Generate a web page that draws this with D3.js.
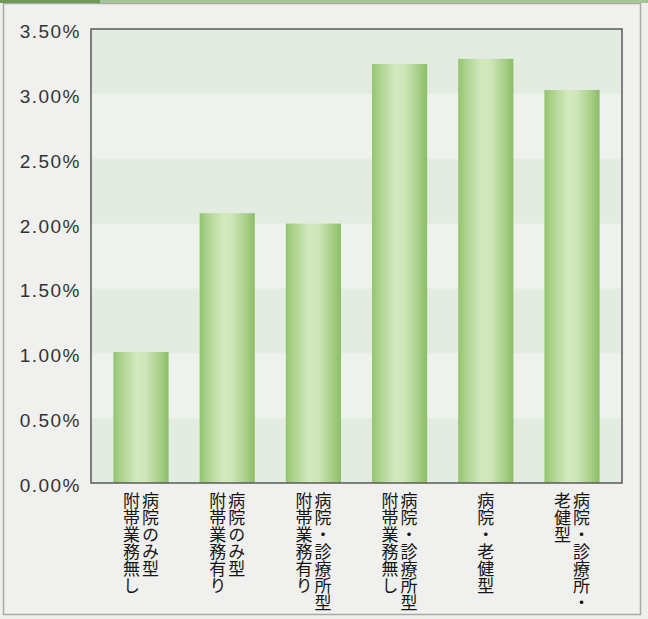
<!DOCTYPE html>
<html lang="ja">
<head>
    <meta charset="utf-8">
    <title>D3: bar chart</title>
    <script src="https://d3js.org/d3.v7.min.js"></script>
    <style type="text/css">
        body { margin: 0; background: #efefed; }
        .ylab { font-family: "Liberation Sans", Arial, sans-serif; font-size: 19px; fill: #333; letter-spacing: 1.5px; }
        .xlab { font-family: "Noto Sans CJK JP", sans-serif; font-size: 17px; fill: #151515; }
    </style>
</head>
<body>
<script type="text/javascript">
    //Width and height
    var w = 648;
    var h = 619;

    //data
    var categories = ["cat1", "cat2", "cat3", "cat4", "cat5", "cat6"];
    var labelLines = [
        ["病院のみ型", "附帯業務無し"],
        ["病院のみ型", "附帯業務有り"],
        ["病院・診療所型", "附帯業務有り"],
        ["病院・診療所型", "附帯業務無し"],
        ["病院・老健型"],
        ["病院・診療所・", "老健型"]
    ];
    var values = [1.01, 2.08, 2.00, 3.23, 3.27, 3.03];
    var tickValues = [0, 0.5, 1.0, 1.5, 2.0, 2.5, 3.0, 3.5];

    var plot = {left: 91, right: 622, top: 29, bottom: 483};

    var xScale = d3.scaleBand()
        .domain(categories)
        .range([plot.left, plot.right])
        .paddingInner(0.36)
        .paddingOuter(0.26);

    var yScale = d3.scaleLinear()
        .domain([0, 3.5])
        .range([plot.bottom, plot.top]);

    var svg = d3.select("body")
        .append("svg")
        .attr("width", w)
        .attr("height", h)
        .style("display", "block");

    var defs = svg.append("defs");
    var grad = defs.append("linearGradient")
        .attr("id", "barGrad")
        .attr("x1", "0%").attr("x2", "100%")
        .attr("y1", "0%").attr("y2", "0%");
    [["0%", "#93c46f"], ["12%", "#a9d18a"], ["42%", "#d3e9bf"], ["58%", "#cfe6b9"],
     ["85%", "#a6ce84"], ["100%", "#8cbd68"]].forEach(function(s) {
        grad.append("stop").attr("offset", s[0]).attr("stop-color", s[1]);
    });

    //outer panel
    svg.append("rect")
        .attr("x", 3.5).attr("y", 3.5)
        .attr("width", 637).attr("height", 611)
        .attr("fill", "#f0f0ee")
        .attr("stroke", "#a9a9a7")
        .attr("stroke-width", 1.5);

    //top band
    svg.append("rect").attr("x", 0).attr("y", 0).attr("width", w).attr("height", 3)
        .attr("fill", "#a7c598");
    svg.append("rect").attr("x", 0).attr("y", 0).attr("width", 100).attr("height", 3)
        .attr("fill", "#6f9a5c");

    //background stripes
    svg.selectAll("rect.stripe")
        .data(d3.range(tickValues.length - 1))
        .enter()
        .append("rect")
        .attr("class", "stripe")
        .attr("x", plot.left)
        .attr("width", plot.right - plot.left)
        .attr("y", function(i) { return yScale(tickValues[i + 1]); })
        .attr("height", function(i) { return yScale(tickValues[i]) - yScale(tickValues[i + 1]); })
        .attr("fill", function(i) { return i % 2 === 0 ? "#e3ece0" : "#eef2ec"; });

    //bars
    svg.selectAll("rect.bar")
        .data(values)
        .enter()
        .append("rect")
        .attr("class", "bar")
        .attr("x", function(d, i) { return xScale(categories[i]); })
        .attr("width", xScale.bandwidth())
        .attr("y", function(d) { return yScale(d); })
        .attr("height", function(d) { return plot.bottom - yScale(d); })
        .attr("fill", "url(#barGrad)");

    //plot frame
    svg.append("rect")
        .attr("x", plot.left).attr("y", plot.top)
        .attr("width", plot.right - plot.left)
        .attr("height", plot.bottom - plot.top)
        .attr("fill", "none")
        .attr("stroke", "#5a5a5a")
        .attr("stroke-width", 1.5);

    //Y axis
    var yAxis = d3.axisLeft(yScale)
        .tickValues(tickValues)
        .tickSize(0)
        .tickPadding(10)
        .tickFormat(function(d) { return d.toFixed(2) + "%"; });
    var yg = svg.append("g")
        .attr("transform", "translate(" + plot.left + ",0)")
        .call(yAxis);
    yg.select(".domain").remove();
    yg.selectAll("text").attr("class", "ylab").attr("dy", "0.45em").attr("font-size", null).attr("font-family", null);

    //X labels, vertical text
    labelLines.forEach(function(lines, i) {
        var cx = xScale(categories[i]) + xScale.bandwidth() / 2;
        var gap = 19;
        lines.forEach(function(line, j) {
            var offset = (lines.length - 1) / 2 * gap - j * gap;
            svg.append("text")
                .attr("class", "xlab")
                .attr("x", cx + offset)
                .attr("y", 492)
                .style("writing-mode", "vertical-rl")
                .text(line);
        });
    });
</script>
</body>
</html>
